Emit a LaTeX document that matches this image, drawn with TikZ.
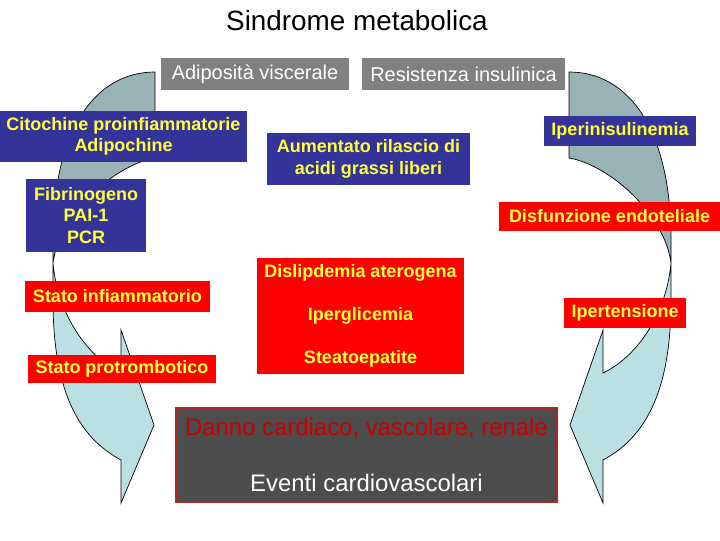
\documentclass[tikz,border=0pt]{standalone}
\usepackage{fontspec}
\setmainfont{Liberation Sans}
\definecolor{boxnavy}{RGB}{51,51,153}
\definecolor{boxred}{RGB}{255,0,0}
\definecolor{boxgray}{RGB}{128,128,128}
\definecolor{labelyellow}{RGB}{255,255,60}
\definecolor{eventgray}{RGB}{77,77,77}
\definecolor{eventborder}{RGB}{170,40,40}
\definecolor{dannored}{RGB}{204,0,0}
\definecolor{arrowdark}{RGB}{152,178,182}
\definecolor{arrowlight}{RGB}{187,224,227}

\begin{document}
\begin{tikzpicture}[x=0.025cm, y=-0.025cm,
        bluebox/.style={fill=boxnavy, text=labelyellow, inner sep=0pt,
                        align=center, font=\bfseries\fontsize{12.8}{15.4}\selectfont},
        redbox/.style={fill=boxred, text=labelyellow, inner sep=0pt,
                       align=center, font=\bfseries\fontsize{12.8}{15.4}\selectfont},
        graybox/.style={fill=boxgray, text=white, inner sep=0pt,
                        font=\fontsize{14.2}{17}\selectfont},
        backface/.style={fill=arrowdark, draw=black, line width=0.5pt},
        frontface/.style={fill=arrowlight, draw=black, line width=0.5pt}
      ]
        \useasboundingbox (0,0) rectangle (720,540);

        \foreach \flip/\off in {1/0, -1/724}{
          \begin{scope}[shift={(\off,0)}, xscale=\flip]
            \draw[backface] (569,72) .. controls (629,72) and (671,130) .. (671,240)
              -- (671,263) .. controls (665,215) and (610,165) .. (569,158) -- cycle;
            \draw[frontface] (671,263) -- (671,300)
              .. controls (671,400) and (640,440) .. (603,460)
              -- (603,503) -- (570,425) -- (603,330) -- (603,373)
              .. controls (640,355) and (667,310) .. (671,263) -- cycle;
          \end{scope}
        }

        \node[font=\fontsize{19.8}{24}\selectfont] (title) at (357,21) {Sindrome metabolica};

        \node[graybox, minimum width=4.7cm, minimum height=0.8cm] (adipo) at (255,74)
          {Adiposità viscerale};
        \node[graybox, minimum width=5.075cm, minimum height=0.8cm] (resist) at (463.5,74)
          {Resistenza insulinica};

        \node[bluebox, minimum width=6.175cm, minimum height=1.275cm] (citochine) at (123.5,136.5)
          {Citochine proinfiammatorie\\Adipochine};
        \node[bluebox, minimum width=5.075cm, minimum height=1.3cm] (acidi) at (368.5,159)
          {Aumentato rilascio di\\acidi grassi liberi};
        \node[bluebox, minimum width=3.8cm, minimum height=0.75cm] (iperins) at (620,131)
          {Iperinisulinemia};
        \node[bluebox, minimum width=3.0cm, minimum height=1.825cm] (fibrin) at (86,215.5)
          {Fibrinogeno\\PAI-1\\PCR};

        \node[redbox, minimum width=5.525cm, minimum height=0.725cm] (endot) at (609.5,216.5)
          {Disfunzione endoteliale};
        \node[redbox, minimum width=5.175cm, minimum height=2.9cm,
              font=\bfseries\fontsize{12.8}{30.5}\selectfont] (dislip) at (360.5,316)
          {Dislipdemia aterogena\\Iperglicemia\\Steatoepatite};
        \node[redbox, minimum width=4.625cm, minimum height=0.775cm] (infiamm) at (117.5,296.5)
          {Stato infiammatorio};
        \node[redbox, minimum width=4.7cm, minimum height=0.7cm] (protromb) at (122,369)
          {Stato protrombotico};
        \node[redbox, minimum width=3.05cm, minimum height=0.75cm] (iperten) at (625,313)
          {Ipertensione};

        \node[fill=eventgray, draw=eventborder, line width=1.2pt, text=white,
              minimum width=9.525cm, minimum height=2.35cm, inner sep=0pt,
              align=center, font=\fontsize{17}{20.4}\selectfont] (eventi) at (366.5,455)
          {\textcolor{dannored}{Danno cardiaco, vascolare, renale}\\[20pt]Eventi cardiovascolari};
      \end{tikzpicture}
\end{document}
